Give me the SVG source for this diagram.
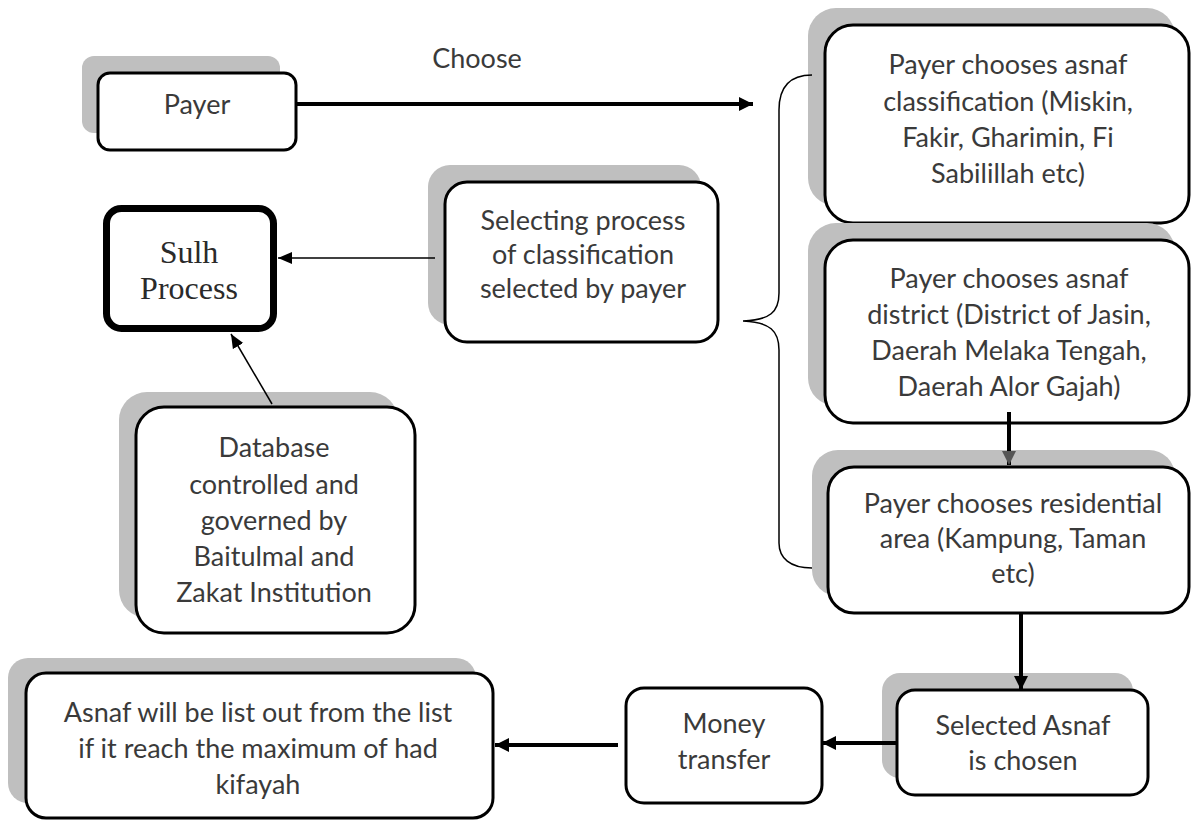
<svg xmlns="http://www.w3.org/2000/svg" width="1192" height="823" viewBox="0 0 1192 823">
<style>
.sh{fill:#bfbfbf;stroke:none}
.bx{fill:#fff;stroke:#000;stroke-width:3}
.t{font-family:Lato,"Liberation Sans",sans-serif;font-size:27px;fill:#3a3a3a;text-anchor:middle}
.ts{font-family:"Liberation Serif","Times New Roman",serif;font-size:32px;fill:#2a2a2a;text-anchor:middle}
.thick{stroke:#000;stroke-width:4;fill:none}
.thin{stroke:#000;stroke-width:1.5;fill:none}
</style>
<defs>
<marker id="ah" markerUnits="userSpaceOnUse" markerWidth="16" markerHeight="16" refX="14" refY="8" orient="auto"><path d="M0,1 L14,8 L0,15 Z" fill="#000"/></marker>
<marker id="ahg" markerUnits="userSpaceOnUse" markerWidth="16" markerHeight="16" refX="14" refY="8" orient="auto"><path d="M0,1 L14,8 L0,15 Z" fill="#555"/></marker>
<marker id="as" markerUnits="userSpaceOnUse" markerWidth="16" markerHeight="14" refX="14" refY="7" orient="auto"><path d="M0,1 L14,7 L0,13 Z" fill="#000"/></marker>
</defs>

<g id="payer">
<rect class="sh" x="82" y="56" width="198" height="77" rx="12"/>
<rect class="bx" x="98" y="73" width="198" height="77" rx="12"/>
<text class="t" x="197" y="114">Payer</text>
</g>

<g id="sulh">
<rect x="106.5" y="208.5" width="167" height="120" rx="15" fill="#fff" stroke="#000" stroke-width="7"/>
<text class="ts" x="189" y="263">Sulh</text>
<text class="ts" x="189" y="299">Process</text>
</g>

<g id="selecting">
<rect class="sh" x="428" y="165" width="273" height="160" rx="22"/>
<rect class="bx" x="445" y="182" width="273" height="160" rx="22"/>
<text class="t" x="583" y="230">Selecting process</text>
<text class="t" x="583" y="264">of classification</text>
<text class="t" x="583" y="298">selected by payer</text>
</g>

<g id="database">
<rect class="sh" x="119" y="392" width="279" height="226" rx="28"/>
<rect class="bx" x="136" y="407" width="279" height="226" rx="28"/>
<text class="t" x="274" y="457">Database</text>
<text class="t" x="274" y="494">controlled and</text>
<text class="t" x="274" y="530">governed by</text>
<text class="t" x="274" y="566">Baitulmal and</text>
<text class="t" x="274" y="602">Zakat Institution</text>
</g>

<g id="classification">
<rect class="sh" x="808" y="8" width="367" height="198" rx="28"/>
<rect class="bx" x="825" y="25" width="364" height="198" rx="28"/>
<text class="t" x="1008" y="74">Payer chooses asnaf</text>
<text class="t" x="1008" y="111">classification (Miskin,</text>
<text class="t" x="1008" y="147">Fakir, Gharimin, Fi</text>
<text class="t" x="1008" y="183">Sabilillah etc)</text>
</g>

<g id="district">
<rect class="sh" x="808" y="223" width="367" height="183" rx="28"/>
<rect class="bx" x="825" y="240" width="364" height="183" rx="28"/>
<text class="t" x="1009" y="288">Payer chooses asnaf</text>
<text class="t" x="1009" y="324">district (District of Jasin,</text>
<text class="t" x="1009" y="360">Daerah Melaka Tengah,</text>
<text class="t" x="1009" y="396">Daerah Alor Gajah)</text>
</g>

<g id="residential">
<rect class="sh" x="812" y="450" width="363" height="146" rx="26"/>
<rect class="bx" x="828" y="467" width="361" height="146" rx="26"/>
<text class="t" x="1013" y="513">Payer chooses residential</text>
<text class="t" x="1013" y="548">area (Kampung, Taman</text>
<text class="t" x="1013" y="583">etc)</text>
</g>

<g id="selected">
<rect class="sh" x="882" y="673" width="251" height="105" rx="18"/>
<rect class="bx" x="897" y="690" width="251" height="105" rx="18"/>
<text class="t" x="1023" y="735">Selected Asnaf</text>
<text class="t" x="1023" y="770">is chosen</text>
</g>

<g id="money">
<rect class="bx" x="626" y="688" width="196" height="115" rx="18"/>
<text class="t" x="724" y="733">Money</text>
<text class="t" x="724" y="769">transfer</text>
</g>

<g id="asnaf">
<rect class="sh" x="8" y="658" width="468" height="145" rx="20"/>
<rect class="bx" x="26" y="673" width="467" height="145" rx="20"/>
<text class="t" x="258" y="722">Asnaf will be list out from the list</text>
<text class="t" x="258" y="758">if it reach the maximum of had</text>
<text class="t" x="258" y="794">kifayah</text>
</g>

<g id="connectors">
<line class="thick" x1="297" y1="104" x2="753" y2="104" marker-end="url(#ah)"/>
<text class="t" x="477" y="68">Choose</text>
<line class="thin" x1="435" y1="258" x2="278" y2="258" marker-end="url(#as)"/>
<line class="thin" x1="272" y1="404" x2="231" y2="334" marker-end="url(#as)"/>
<path class="thin" d="M812,75 C790,75 779,86 779,110 L779,293 C779,312 770,320 743,321 C770,322 779,331 779,350 L779,543 C779,558 790,568 812,568"/>
<line class="thick" x1="1009" y1="412" x2="1009" y2="465" marker-end="url(#ahg)"/>
<line class="thick" x1="1021" y1="614" x2="1021" y2="690" marker-end="url(#ah)"/>
<line class="thick" x1="896" y1="743" x2="822" y2="743" marker-end="url(#ah)"/>
<line class="thick" x1="618" y1="745" x2="495" y2="745" marker-end="url(#ah)"/>
</g>
</svg>
